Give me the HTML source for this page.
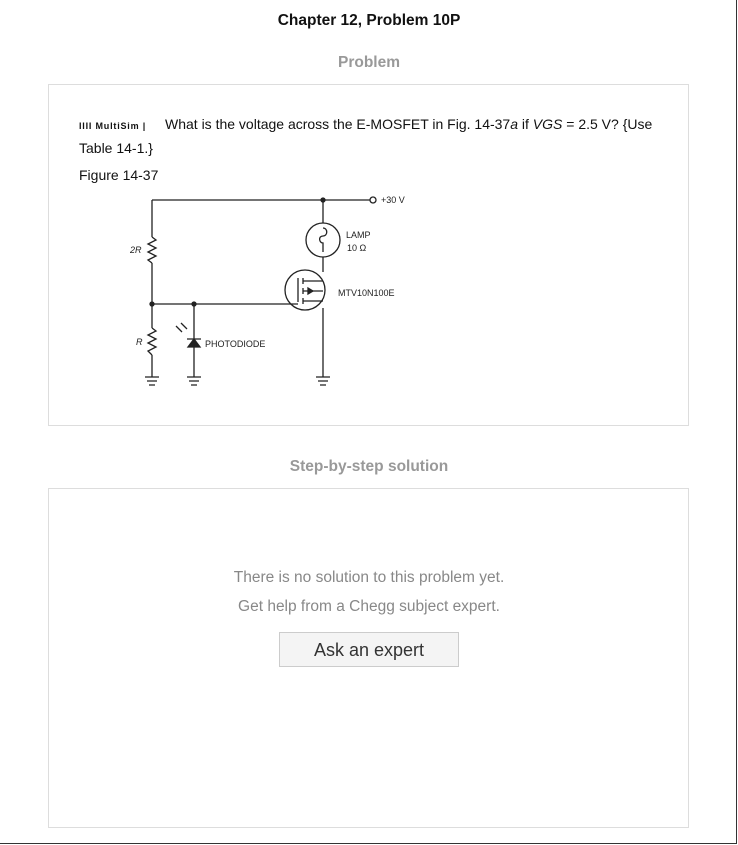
<!DOCTYPE html>
<html><head><meta charset="utf-8"><style>
body{margin:0;width:738px;height:845px;background:#fff;font-family:"Liberation Sans",sans-serif;position:relative;overflow:hidden}
.abs{position:absolute}
</style></head><body>
<div class="abs" style="left:0;top:0;width:736px;height:843px;border-right:1px solid #333;border-bottom:1px solid #333"></div>
<div class="abs" style="left:0;width:738px;top:12px;text-align:center;font-weight:bold;font-size:15.5px;color:#111">Chapter 12, Problem 10P</div>
<div class="abs" style="left:0;width:738px;top:54px;text-align:center;font-weight:bold;font-size:15.5px;color:#999">Problem</div>
<div class="abs" style="left:48px;top:84px;width:639px;height:340px;border:1px solid #ddd"></div>
<div class="abs" style="left:79px;top:113px;width:585px;font-size:14px;line-height:22px;color:#111"><span style="font-size:9px;font-weight:bold;letter-spacing:0.8px;display:inline-block;width:86px">IIII MultiSim |</span>What is the voltage across the E-MOSFET in Fig. 14-37<i>a</i> if <i>VGS</i> = 2.5 V? {Use Table 14-1.}</div>
<div class="abs" style="left:79px;top:167px;font-size:14px;color:#111">Figure 14-37</div>
<svg class="abs" style="left:0;top:0" width="738" height="845" fill="none" stroke="#222" stroke-width="1.3">
<path d="M152 200 H370 M152 200 V237 M152 263 V328 M152 355 V377 M152 304 H288 M194 304 V377 M323 200 V223 M323 257 V272 M323 308 V377"/>
<circle cx="373" cy="200" r="3"/>
<circle cx="323" cy="200" r="2" fill="#222"/><circle cx="152" cy="304" r="2" fill="#222"/><circle cx="194" cy="304" r="2" fill="#222"/>
<path d="M152 237 l4 3 l-8 4 l8 4 l-8 4 l8 4 l-8 4 l4 3"/>
<path d="M152 328 l4 3 l-8 4 l8 4 l-8 4 l8 4 l-8 4 l4 4"/>
<circle cx="323" cy="240" r="17"/><path d="M323 228 c5 0 5 8 0 8 c-5 0 -4 7 0 7 V252"/>
<circle cx="305" cy="290" r="20"/>
<path d="M298 278 V302 M303 278 V284 M303 288 V294 M303 298 V304 M303 281 H323 M303 291 H323 M303 301 H323 M288 304 H298"/>
<path d="M313 291 l-5 -3 v6 z" fill="#222"/>
<path d="M188 347 h12 l-6 -8 z M187 339 h14" fill="#222"/>
<path d="M176 326 l6 6 M181 323 l6 6"/>
<path d="M145 377 h14 M147 381 h10 M149 385 h6 M187 377 h14 M189 381 h10 M191 385 h6 M316 377 h14 M318 381 h10 M320 385 h6"/>
<g stroke="none" fill="#222" font-family="Liberation Sans,sans-serif" font-size="9">
<text x="381" y="203">+30 V</text><text x="346" y="238">LAMP</text><text x="347" y="251">10 Ω</text>
<text x="338" y="296">MTV10N100E</text><text x="205" y="347">PHOTODIODE</text>
<text x="130" y="253" font-style="italic">2R</text><text x="136" y="345" font-style="italic">R</text></g>
</svg>
<div class="abs" style="left:0;width:738px;top:458px;text-align:center;font-weight:bold;font-size:15.5px;color:#999">Step-by-step solution</div>
<div class="abs" style="left:48px;top:488px;width:639px;height:338px;border:1px solid #ddd"></div>
<div class="abs" style="left:0;width:738px;top:563px;text-align:center;font-size:15.5px;color:#888;line-height:29px">There is no solution to this problem yet.<br>Get help from a Chegg subject expert.</div>
<div class="abs" style="left:279px;top:632px;width:178px;height:33px;border:1px solid #ccc;background:#f4f4f4;text-align:center;line-height:35px;font-size:18px;color:#333">Ask an expert</div>
</body></html>
